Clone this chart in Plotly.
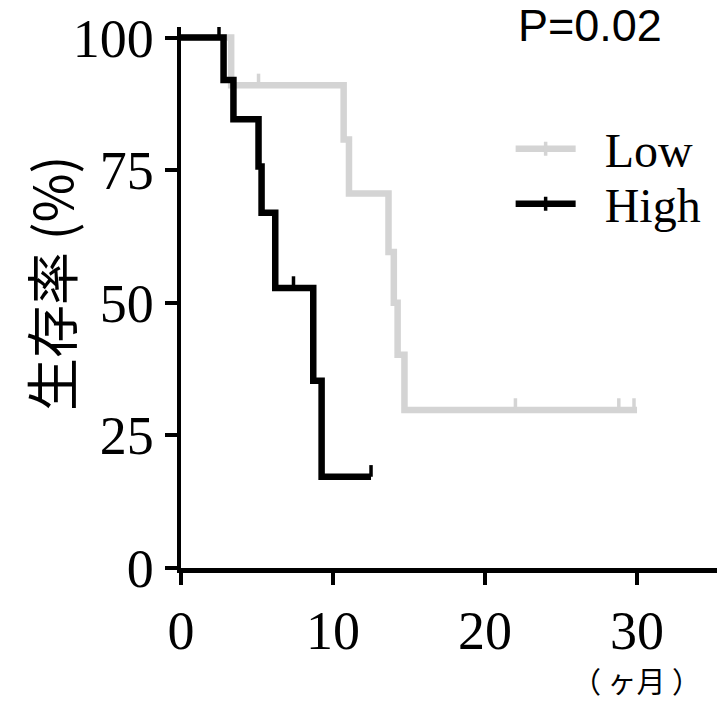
import plotly.graph_objects as go

# ---- data ----
low_t = [0, 3.3, 10.7, 11.05, 13.65, 14.0, 14.25, 14.7, 30.0]
low_s = [100, 91, 80.8, 70.6, 59.6, 50, 40.2, 29.8, 29.8]
low_cens_t = [5.1, 22.0, 28.8, 29.8]
low_cens_s = [91, 29.8, 29.8, 29.8]

high_t = [0, 2.8, 3.45, 5.1, 5.3, 6.2, 8.7, 9.25, 12.5]
high_s = [100, 92, 84.6, 75.7, 67, 52.8, 35.3, 17.2, 17.2]
high_cens_t = [2.5, 7.4, 12.5]
high_cens_s = [100, 52.8, 17.2]

x_ticks = [0, 10, 20, 30]
y_ticks = [0, 25, 50, 75, 100]
series_names = ["Low", "High"]
p_text = "P=0.02"
y_title = "生存率 (%)"
x_unit = "（ ヶ月 ）"

GRAY = "#d4d4d4"
BLACK = "#000000"
LW = 6.5

fig = go.Figure()

for t, s, ct, cs, col in [(low_t, low_s, low_cens_t, low_cens_s, GRAY),
                          (high_t, high_s, high_cens_t, high_cens_s, BLACK)]:
    fig.add_trace(go.Scatter(x=t, y=s, mode="lines", line=dict(color=col, width=LW, shape="hv"),
                             showlegend=False, hoverinfo="skip"))
    fig.add_trace(go.Scatter(x=ct, y=cs, mode="markers", marker=dict(size=1, color=col, opacity=0),
                             error_y=dict(type="constant", value=2.2, valueminus=0, symmetric=False,
                                          thickness=3.5, width=0, color=col),
                             showlegend=False, hoverinfo="skip", cliponaxis=False))

# legend entries (one legend each so the spacing can match)
for name, col, lg in zip(series_names, [GRAY, BLACK], ["legend", "legend2"]):
    fig.add_trace(go.Scatter(x=[None], y=[None], mode="lines+markers", name="\u00a0\u00a0" + name,
                             legend=lg,
                             line=dict(color=col, width=LW),
                             marker=dict(symbol="line-ns", size=10, color=col,
                                         line=dict(color=col, width=3.5))))

serif = "Liberation Serif"
leg_common = dict(xanchor="left", yanchor="middle",
                  font=dict(family=serif, size=48, color="black"),
                  bgcolor="rgba(0,0,0,0)", itemwidth=60)
fig.update_layout(
    width=717, height=703,
    margin=dict(l=181, r=0, t=27, b=135),
    paper_bgcolor="white", plot_bgcolor="white",
    showlegend=True,
    legend=dict(x=0.615, y=(568 - 149) / 541, **leg_common),
    legend2=dict(x=0.615, y=(568 - 204) / 541, **leg_common),
    xaxis=dict(range=[0, 35.26], tickvals=x_ticks, ticks="outside", ticklen=12, tickwidth=4,
               tickcolor="black", showline=True, linecolor="black", linewidth=4.5,
               showgrid=False, zeroline=False, automargin=False,
               tickfont=dict(family=serif, size=54, color="black")),
    yaxis=dict(range=[0, 102], tickvals=y_ticks, ticks="outside", ticklen=12, tickwidth=4,
               tickcolor="black", showline=True, linecolor="black", linewidth=4.5,
               showgrid=False, zeroline=False, automargin=False,
               tickfont=dict(family=serif, size=54, color="black")),
)

fig.add_annotation(text=p_text, xref="paper", yref="paper", x=0.763, y=1.002,
                   xanchor="center", yanchor="middle", showarrow=False,
                   font=dict(family="Liberation Sans", size=45, color="black"))
fig.add_annotation(text=y_title, xref="paper", yref="paper", x=-0.244, y=0.527,
                   xanchor="center", yanchor="middle", showarrow=False, textangle=-90,
                   font=dict(family="Noto Sans CJK JP", size=53, color="black"))
fig.add_annotation(text=x_unit, xref="paper", yref="paper", x=0.849, y=(568 - 680) / 541,
                   xanchor="center", yanchor="middle", showarrow=False, borderpad=0,
                   font=dict(family="Noto Sans CJK JP", size=29, color="black"))

fig.write_html("out.html", config={"displayModeBar": False, "staticPlot": True},
               post_script="document.body.style.margin='0';document.body.style.overflow='hidden';")
